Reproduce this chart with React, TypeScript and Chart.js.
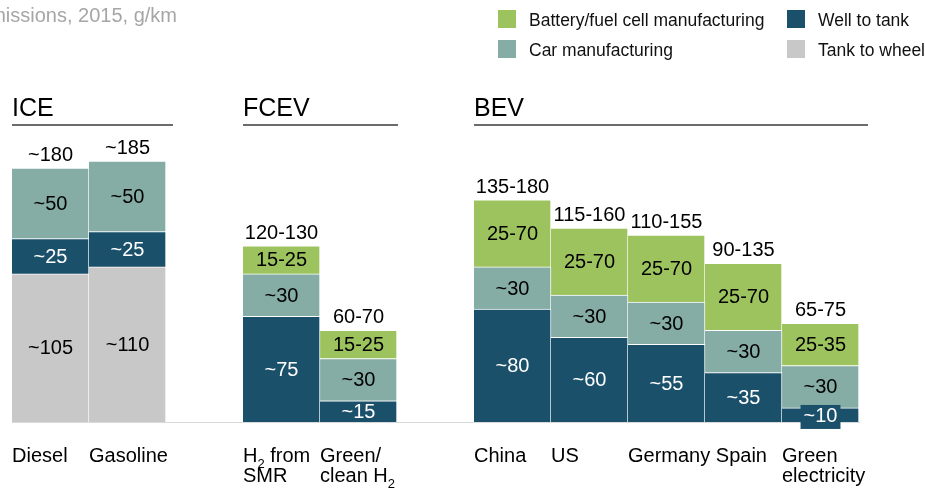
import React, { useEffect, useRef } from 'react';
import { Chart, registerables } from 'chart.js';

Chart.register(...registerables);

// ---------- data ----------
const categories: string[][] = [
  ['Diesel'], ['Gasoline'], [''],
  ['H₂ from', 'SMR'], ['Green/', 'clean H₂'], [''],
  ['China'], ['US'], ['Germany'], ['Spain'], ['Green', 'electricity'],
];

const tankToWheel = [105, 110, null, null, null, null, null, null, null, null, null];
const wellToTank = [25, 25, null, 75, 15, null, 80, 60, 55, 35, 10];
const carManufacturing = [50, 50, null, 30, 30, null, 30, 30, 30, 30, 30];
const batteryManufacturing = [null, null, null, 20, 20, null, 47.5, 47.5, 47.5, 47.5, 30];

const tankToWheelLabels = ['~105', '~110', '', '', '', '', '', '', '', '', ''];
const wellToTankLabels = ['~25', '~25', '', '~75', '~15', '', '~80', '~60', '~55', '~35', '~10'];
const carManufacturingLabels = ['~50', '~50', '', '~30', '~30', '', '~30', '~30', '~30', '~30', '~30'];
const batteryManufacturingLabels = ['', '', '', '15-25', '15-25', '', '25-70', '25-70', '25-70', '25-70', '25-35'];
const totalLabels = ['~180', '~185', '', '120-130', '60-70', '', '135-180', '115-160', '110-155', '90-135', '65-75'];

const groups = [
  { label: 'ICE', first: 0, last: 1, extend: 7 },
  { label: 'FCEV', first: 3, last: 4, extend: 1 },
  { label: 'BEV', first: 6, last: 10, extend: 9 },
];

const titleText = 'CO₂ emissions, 2015, g/km';

const COLORS = {
  battery: '#9DC35E',
  car: '#85ADA5',
  wtt: '#1B506B',
  ttw: '#C8C8C8',
};

const FONT = '"Liberation Sans", Arial, Helvetica, sans-serif';

// draw text with "₂" rendered as a subscript 2
function drawRich(ctx: CanvasRenderingContext2D, text: string, x: number, y: number, size: number) {
  const parts = text.split('₂');
  let cx = x;
  parts.forEach((p, idx) => {
    ctx.font = `${size}px ${FONT}`;
    ctx.fillText(p, cx, y);
    cx += ctx.measureText(p).width;
    if (idx < parts.length - 1) {
      ctx.font = `${Math.round(size * 0.65)}px ${FONT}`;
      ctx.fillText('2', cx, y + 6);
      cx += ctx.measureText('2').width;
    }
  });
  return cx - x;
}

const decorPlugin = {
  id: 'decor',
  afterDraw(chart: any) {
    const ctx: CanvasRenderingContext2D = chart.ctx;
    const xs = chart.scales.x;
    const slot = (xs.right - xs.left) / categories.length;
    ctx.save();

    // title (cut at the left edge)
    ctx.font = `20px ${FONT}`;
    ctx.fillStyle = '#A6A6A6';
    ctx.textAlign = 'right';
    ctx.textBaseline = 'alphabetic';
    ctx.fillText(titleText, 177, 22);

    // legend
    const ds = chart.data.datasets;
    const legendItems = [
      { d: 3, x: 498, y: 10 },
      { d: 1, x: 787, y: 10 },
      { d: 2, x: 498, y: 40 },
      { d: 0, x: 787, y: 40 },
    ];
    ctx.textAlign = 'left';
    ctx.font = `17.5px ${FONT}`;
    legendItems.forEach((it) => {
      ctx.fillStyle = ds[it.d].backgroundColor;
      ctx.fillRect(it.x, it.y, 18, 18);
      ctx.fillStyle = '#111';
      ctx.fillText(ds[it.d].label, it.x + 31, it.y + 16);
    });

    // group headers
    groups.forEach((g) => {
      const left = xs.getPixelForValue(g.first) - slot / 2;
      const right = xs.getPixelForValue(g.last) + slot / 2 + g.extend;
      ctx.fillStyle = '#000';
      ctx.font = `25px ${FONT}`;
      ctx.textAlign = 'left';
      ctx.fillText(g.label, left, 116);
      ctx.strokeStyle = '#3A3A3A';
      ctx.lineWidth = 1.5;
      ctx.beginPath();
      ctx.moveTo(left, 125);
      ctx.lineTo(right, 125);
      ctx.stroke();
    });

    // category labels (left aligned at bar edge, pushed right if overlapping)
    ctx.fillStyle = '#000';
    ctx.textAlign = 'left';
    let prevEnd = -Infinity;
    categories.forEach((lines, i) => {
      if (!lines[0]) return;
      let left = xs.getPixelForValue(i) - slot / 2;
      ctx.font = `20px ${FONT}`;
      const space = ctx.measureText(' ').width;
      if (left < prevEnd + space) left = prevEnd + space;
      let maxW = 0;
      lines.forEach((ln, k) => {
        const w = drawRich(ctx, ln, left, 462 + k * 20, 20);
        maxW = Math.max(maxW, w);
      });
      prevEnd = left + maxW;
    });

    // value labels inside segments
    const segLabels = [tankToWheelLabels, wellToTankLabels, carManufacturingLabels, batteryManufacturingLabels];
    ctx.textAlign = 'center';
    ctx.textBaseline = 'middle';
    ctx.font = `20px ${FONT}`;
    segLabels.forEach((labels, d) => {
      const meta = chart.getDatasetMeta(d);
      meta.data.forEach((el: any, i: number) => {
        const v = ds[d].data[i];
        if (v == null || !labels[i]) return;
        const top = el.y;
        const bottom = el.base;
        let cy = (top + bottom) / 2 + 1;
        const dark = d === 1;
        if (bottom - top < 20) {
          const w = ctx.measureText(labels[i]).width + 6;
          cy = (top + bottom) / 2 + 2;
          ctx.fillStyle = ds[d].backgroundColor;
          ctx.fillRect(el.x - w / 2, cy - 12, w, 24);
        }
        ctx.fillStyle = dark ? '#FFFFFF' : '#000000';
        ctx.fillText(labels[i], el.x, cy);
      });
    });

    // totals above bars
    ctx.textBaseline = 'alphabetic';
    ctx.fillStyle = '#000';
    categories.forEach((_, i) => {
      if (!totalLabels[i]) return;
      let top = Infinity;
      let x = 0;
      ds.forEach((dset: any, d: number) => {
        if (dset.data[i] == null) return;
        const el = chart.getDatasetMeta(d).data[i];
        if (el.y < top) { top = el.y; x = el.x; }
      });
      ctx.fillText(totalLabels[i], x, top - 7);
    });

    ctx.restore();
  },
};

export default function App() {
  const ref = useRef<HTMLCanvasElement>(null);
  useEffect(() => {
    const border = { top: 1, right: 1, left: 0, bottom: 0 };
    const chart = new Chart(ref.current as HTMLCanvasElement, {
      type: 'bar',
      data: {
        labels: categories.map((c) => c.join(' ')),
        datasets: [
          { label: 'Tank to wheel', data: tankToWheel, backgroundColor: COLORS.ttw, borderColor: '#fff', borderWidth: border, borderSkipped: false },
          { label: 'Well to tank', data: wellToTank, backgroundColor: COLORS.wtt, borderColor: '#fff', borderWidth: border, borderSkipped: false },
          { label: 'Car manufacturing', data: carManufacturing, backgroundColor: COLORS.car, borderColor: '#fff', borderWidth: border, borderSkipped: false },
          { label: 'Battery/fuel cell manufacturing', data: batteryManufacturing, backgroundColor: COLORS.battery, borderColor: '#fff', borderWidth: border, borderSkipped: false },
        ] as any,
      },
      options: {
        responsive: false,
        animation: false,
        devicePixelRatio: 1,
        layout: { padding: { left: 12, right: 66, top: 140, bottom: 60 } },
        datasets: { bar: { barPercentage: 1, categoryPercentage: 1 } },
        plugins: { legend: { display: false }, tooltip: { enabled: false }, title: { display: false } },
        scales: {
          x: {
            stacked: true,
            grid: { display: false },
            ticks: { display: false },
            border: { display: true, color: '#D9D9D9', width: 1 },
          },
          y: { stacked: true, display: false, min: 0, max: 200 },
        },
      } as any,
      plugins: [decorPlugin],
    });
    return () => chart.destroy();
  }, []);
  return (
    <div style={{ position: 'fixed', left: 0, top: 0, width: 925, height: 490, background: '#fff' }}>
      <canvas ref={ref} width={925} height={490} style={{ display: 'block', width: 925, height: 490 }} />
    </div>
  );
}
